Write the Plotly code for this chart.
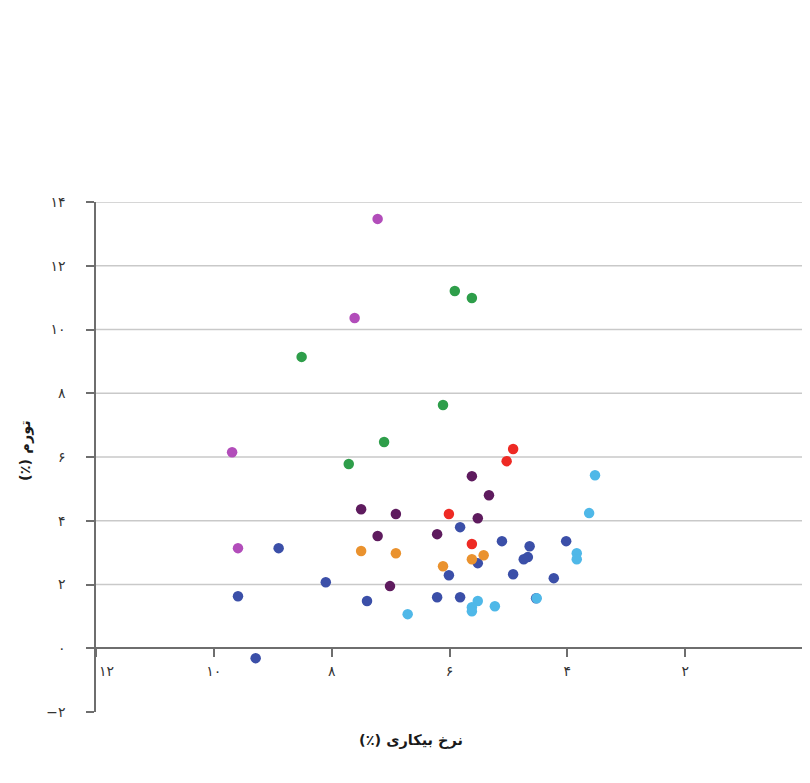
import plotly.graph_objects as go

# ---- data (unemployment %, inflation %) per group ----
magenta_x = [7.22, 7.61, 9.69, 9.59]
magenta_y = [13.47, 10.36, 6.15, 3.14]

green_x = [5.91, 5.62, 8.51, 6.11, 7.11, 7.71]
green_y = [11.21, 10.99, 9.14, 7.63, 6.47, 5.78]

red_x = [4.92, 5.03, 6.01, 5.62]
red_y = [6.25, 5.87, 4.21, 3.27]

purple_x = [5.62, 5.33, 7.50, 6.91, 5.52, 7.22, 6.21, 7.01]
purple_y = [5.40, 4.80, 4.36, 4.21, 4.08, 3.52, 3.58, 1.95]

orange_x = [7.50, 6.91, 6.11, 5.62, 5.42]
orange_y = [3.05, 2.98, 2.57, 2.79, 2.92]

blue_x = [5.82, 5.11, 4.64, 4.02, 8.90, 4.67, 4.74, 5.52, 6.01, 4.92, 4.23,
          8.10, 9.59, 7.40, 6.21, 5.82, 4.53, 9.29]
blue_y = [3.80, 3.36, 3.20, 3.36, 3.14, 2.86, 2.79, 2.67, 2.29, 2.32, 2.20,
          2.07, 1.63, 1.48, 1.60, 1.60, 1.57, -0.31]

lightblue_x = [3.53, 3.63, 3.84, 3.84, 4.52, 5.52, 5.23, 5.62, 5.62, 6.71]
lightblue_y = [5.43, 4.24, 2.98, 2.79, 1.57, 1.48, 1.32, 1.29, 1.16, 1.07]

x_tickvals = [12, 10, 8, 6, 4, 2, 0]
x_ticktext = ["\u2002\u2003۱۲", "۱۰", "۸", "۶", "۴", "۲", ""]
y_tickvals = [-2, 0, 2, 4, 6, 8, 10, 12, 14]
y_ticktext = ["−۲", "۰", "۲", "۴", "۶", "۸", "۱۰", "۱۲", "۱۴"]
grid_y = [2, 4, 6, 8, 10, 12, 14]

RLM = "\u200f"
x_title = "نرخ بیکاری (٪)"
y_title = "تورم (٪)"

series = [
    (blue_x, blue_y, "#3B4FA8"),
    (lightblue_x, lightblue_y, "#4FB8E8"),
    (orange_x, orange_y, "#EA922E"),
    (purple_x, purple_y, "#5E1B5E"),
    (red_x, red_y, "#EE2A24"),
    (green_x, green_y, "#2E9E4A"),
    (magenta_x, magenta_y, "#B24DBA"),
]

FONT = "DejaVu Sans"

fig = go.Figure()
for xs, ys, col in series:
    fig.add_trace(go.Scatter(
        x=xs, y=ys, mode="markers",
        marker=dict(size=10.5, color=col, line=dict(width=0)),
        showlegend=False, hoverinfo="x+y",
    ))

for g in grid_y:
    fig.add_shape(type="line", xref="paper", yref="y", x0=0, x1=1, y0=g, y1=g,
                  line=dict(color="#C9C9C9", width=1.5), layer="below")

# page body adds an 8px offset, so the figure is 8px smaller and margins shifted
fig.update_layout(
    width=802, height=775,
    margin=dict(l=88, r=7, t=194, b=71, autoexpand=False),
    paper_bgcolor="white", plot_bgcolor="white",
    font=dict(family=FONT, size=14, color="#222"),
    xaxis=dict(
        range=[12, 0], autorange=False, automargin=False,
        anchor="free", position=0.125,
        showline=True, linecolor="#6E6E6E", linewidth=1.5,
        showgrid=False, zeroline=False,
        ticks="outside", ticklen=8, tickwidth=1.5, tickcolor="#6E6E6E",
        tickmode="array", tickvals=x_tickvals, ticktext=x_ticktext,
        tickfont=dict(family=FONT, size=14, color="#333"),
        ticklabelstandoff=2,
    ),
    yaxis=dict(
        range=[-2, 14], autorange=False, automargin=False,
        showline=True, linecolor="#6E6E6E", linewidth=1.5,
        showgrid=False, zeroline=False,
        ticks="outside", ticklen=8, tickwidth=1.5, tickcolor="#6E6E6E",
        tickmode="array", tickvals=y_tickvals, ticktext=y_ticktext,
        tickfont=dict(family=FONT, size=14, color="#333"),
        ticklabelstandoff=18,
    ),
    annotations=[
        dict(text=x_title + RLM, xref="paper", yref="paper", x=0.446, y=-0.055,
             xanchor="center", yanchor="middle", showarrow=False,
             font=dict(family=FONT, size=14.5, color="#1a1a1a", weight="bold")),
        dict(text=y_title + RLM, xref="paper", yref="paper", x=-0.099, y=0.512,
             xanchor="center", yanchor="middle", showarrow=False, textangle=-90,
             font=dict(family=FONT, size=14.5, color="#1a1a1a", weight="bold")),
    ],
)

fig.write_html("out.html")
